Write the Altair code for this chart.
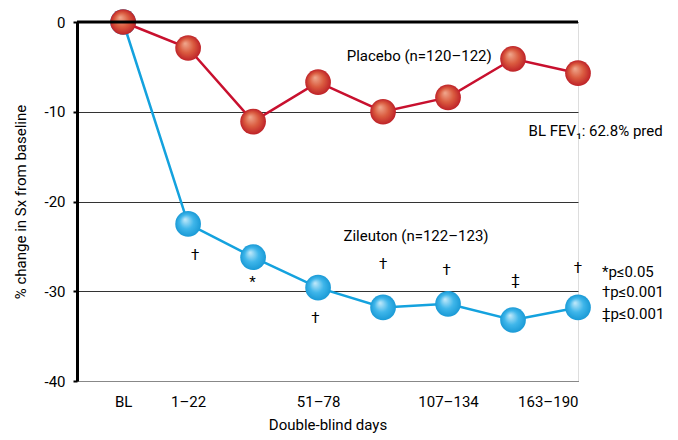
import altair as alt
import pandas as pd

# ---- data ----
periods = ["BL", "1–22", "23–50", "51–78", "79–106", "107–134", "135–162", "163–190"]
period_idx = [0, 1, 2, 3, 4, 5, 6, 7]
placebo = [0, -2.9, -11.1, -6.7, -10.0, -8.4, -4.1, -5.7]
zileuton = [0, -22.5, -26.2, -29.6, -31.8, -31.4, -33.2, -31.8]

sig_marks = ["†", "*", "†", "†", "†", "‡", "†"]
sig_x = [1.11, 1.99, 2.96, 4.0, 4.98, 6.04, 7.0]
sig_y = [-26.0, -29.0, -33.0, -27.0, -27.6, -28.7, -27.4]

notes = ["Placebo (n=120–122)", "BL FEV₁: 62.8% pred", "Zileuton (n=122–123)",
         "*p≤0.05", "†p≤0.001", "‡p≤0.001"]
notes_x = [3.44, 6.24, 3.39, 7.37, 7.37, 7.37]
notes_y = [-3.8, -12.1, -23.8, -27.9, -30.1, -32.5]

y_ticks = [0, -10, -20, -30, -40]
x_label_idx = [0, 1, 3, 5, 7]

FONT = "Roboto"
FS = 15

pl = pd.DataFrame({"x": period_idx, "y": placebo, "period": periods})
zi = pd.DataFrame({"x": period_idx, "y": zileuton, "period": periods})
sig = pd.DataFrame({"x": sig_x, "y": sig_y, "t": sig_marks})
nt = pd.DataFrame({"x": notes_x, "y": notes_y, "t": notes})
zero = pd.DataFrame({"y": [0]})

label_expr = ("datum.value==0?'BL':datum.value==1?'1–22':datum.value==3?'51–78':"
              "datum.value==5?'107–134':datum.value==7?'163–190':''")

xs = alt.Scale(domain=[-0.71, 7.0], nice=False, zero=False)
ys = alt.Scale(domain=[-40, 0], nice=False)

X = alt.X("x:Q", scale=xs,
          axis=alt.Axis(title="Double-blind days", values=x_label_idx, labelExpr=label_expr,
                        grid=False, ticks=False, domainColor="#888", domainWidth=1,
                        labelPadding=13, titlePadding=8, labelFontSize=FS, titleFontSize=FS,
                        labelFont=FONT, titleFont=FONT, labelColor="black", titleColor="black",
                        titleFontWeight="normal"))
Y = alt.Y("y:Q", scale=ys,
          axis=alt.Axis(title="% change in Sx from baseline", values=y_ticks,
                        labelExpr="'' + datum.value",
                        grid=True, gridColor="#333", gridWidth=1,
                        domainColor="black", domainWidth=3, tickColor="black", tickSize=4,
                        tickWidth=2, labelPadding=8, titlePadding=15, labelFontSize=FS,
                        titleFontSize=FS, labelFont=FONT, titleFont=FONT, labelColor="black",
                        titleColor="black", titleFontWeight="normal"))


def sphere(c0, c1, c2):
    return {"gradient": "radial", "x1": 0.38, "y1": 0.32, "r1": 0.0,
            "x2": 0.5, "y2": 0.5, "r2": 0.5,
            "stops": [{"offset": 0, "color": c0}, {"offset": 0.55, "color": c1},
                      {"offset": 1, "color": c2}]}


zero_rule = alt.Chart(zero).mark_rule(color="black", strokeWidth=3).encode(y=alt.Y("y:Q", scale=ys))

zi_line = alt.Chart(zi).mark_line(color="#14A2DE", strokeWidth=2.5).encode(x=X, y=Y)
zi_pts = alt.Chart(zi).mark_circle(size=660, opacity=1,
                                   fill=sphere("#C4EAFA", "#3FB6EA", "#1A9AD6")).encode(x=X, y=Y)
pl_line = alt.Chart(pl).mark_line(color="#C8102E", strokeWidth=2.5).encode(x=X, y=Y)
pl_pts = alt.Chart(pl).mark_circle(size=660, opacity=1,
                                   fill=sphere("#F0A98F", "#DA5B3F", "#BE2228")).encode(x=X, y=Y)

sig_txt = alt.Chart(sig).mark_text(font=FONT, fontSize=FS, color="black").encode(
    x=alt.X("x:Q", scale=xs), y=alt.Y("y:Q", scale=ys), text="t:N")
note_txt = alt.Chart(nt).mark_text(font=FONT, fontSize=FS, color="black", align="left").encode(
    x=alt.X("x:Q", scale=xs), y=alt.Y("y:Q", scale=ys), text="t:N")

chart = alt.layer(zi_line, zi_pts, pl_line, pl_pts, zero_rule, sig_txt, note_txt).properties(
    width=501, height=359, autosize="none",
    padding={"left": 69, "top": 14, "right": 92, "bottom": 58},
).configure_view(stroke=None, clip=False).configure(background="white")

chart.save("out.html", embed_options={"renderer": "svg", "actions": False})
